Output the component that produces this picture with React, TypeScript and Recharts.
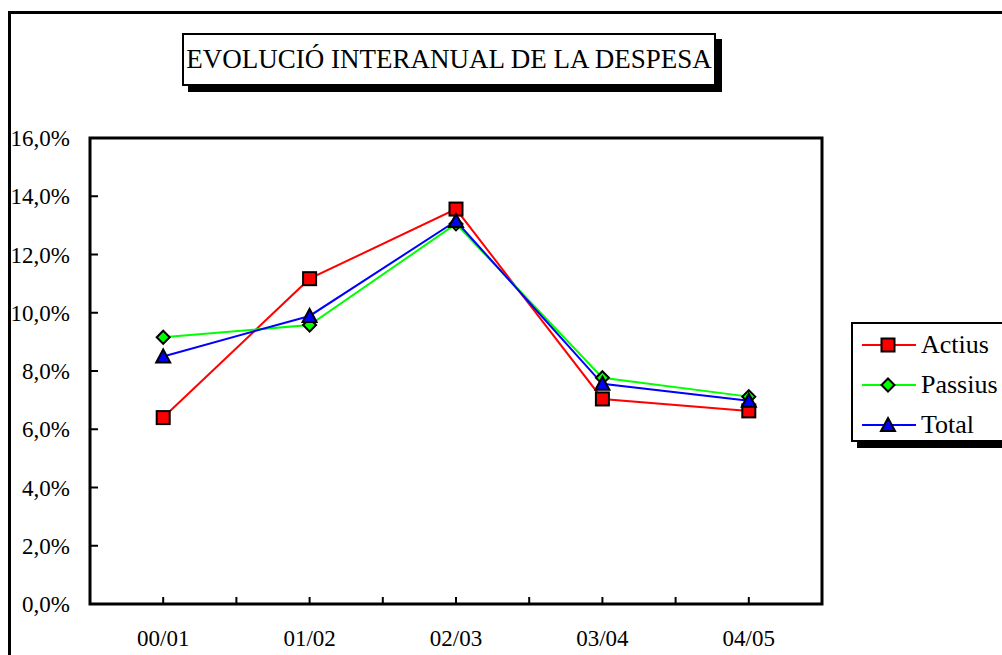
import { LineChart, Line, XAxis, YAxis, ReferenceArea } from 'recharts';

const categories = ['00/01', '01/02', '02/03', '03/04', '04/05'];
const actius = [6.4, 11.17, 13.56, 7.04, 6.63];
const passius = [9.16, 9.58, 13.05, 7.77, 7.12];
const total = [8.5, 9.89, 13.15, 7.56, 6.98];
const yTicks = [0, 2, 4, 6, 8, 10, 12, 14, 16];
const xTicks = [0.5, 1, 1.5, 2, 2.5, 3, 3.5, 4, 4.5];

const FONT = 'Liberation Serif';

const chartData = categories.map((c, i) => ({
  x: i + 0.5,
  name: c,
  actius: actius[i],
  passius: passius[i],
  total: total[i],
}));

function Square({ cx, cy }: { cx: number; cy: number }) {
  return <rect x={cx - 6.5} y={cy - 6.5} width={13} height={13} fill="#ff0000" stroke="#000" strokeWidth={2} />;
}

function Diamond({ cx, cy }: { cx: number; cy: number }) {
  const r = 6.5;
  return (
    <polygon
      points={`${cx},${cy - r} ${cx + r},${cy} ${cx},${cy + r} ${cx - r},${cy}`}
      fill="#00ff00"
      stroke="#000"
      strokeWidth={2}
    />
  );
}

function Triangle({ cx, cy }: { cx: number; cy: number }) {
  return (
    <polygon
      points={`${cx},${cy - 7} ${cx + 7},${cy + 6} ${cx - 7},${cy + 6}`}
      fill="#0000ff"
      stroke="#000"
      strokeWidth={2}
    />
  );
}

const series = [
  { key: 'actius', name: 'Actius', color: '#ff0000', Marker: Square },
  { key: 'passius', name: 'Passius', color: '#00ff00', Marker: Diamond },
  { key: 'total', name: 'Total', color: '#0000ff', Marker: Triangle },
];

function Legend() {
  return (
    <div
      style={{
        position: 'absolute',
        left: 851,
        top: 322,
        width: 170,
        height: 116,
        border: '2px solid #000',
        background: '#fff',
        boxShadow: '6px 6px 0 #000',
      }}
    >
      {series.map((s, i) => (
        <div key={s.key} style={{ position: 'absolute', left: 7, top: 3 + i * 40, height: 36, display: 'flex', alignItems: 'center' }}>
          <svg width={56} height={20}>
            <line x1={2} y1={10} x2={56} y2={10} stroke={s.color} strokeWidth={2} />
            <s.Marker cx={28} cy={10} />
          </svg>
          <span style={{ fontFamily: FONT, fontSize: 26, marginLeft: 5, color: '#000' }}>{s.name}</span>
        </div>
      ))}
    </div>
  );
}

export default function App() {
  return (
    <div style={{ position: 'fixed', left: 0, top: 0, width: 1002, height: 655, overflow: 'hidden', background: '#fff' }}>
      <div
        style={{
          position: 'absolute',
          left: 8,
          top: 11,
          width: 1100,
          height: 800,
          border: '3px solid #000',
        }}
      />
      <div
        style={{
          position: 'absolute',
          left: 182,
          top: 33,
          width: 530,
          height: 49,
          border: '2px solid #000',
          background: '#fff',
          boxShadow: '6px 6px 0 #000',
          display: 'flex',
          alignItems: 'center',
          justifyContent: 'center',
          fontFamily: FONT,
          fontSize: 27,
          color: '#000',
        }}
      >
        EVOLUCIÓ INTERANUAL DE LA DESPESA
      </div>
      <div style={{ position: 'absolute', left: 0, top: 0, fontFamily: FONT }}>
        <LineChart width={1002} height={655} data={chartData} margin={{ top: 138, right: 180, bottom: 11, left: 10 }}>
          <XAxis
            type="number"
            dataKey="x"
            domain={[0, 5]}
            ticks={xTicks}
            interval={0}
            height={40}
            axisLine={false}
            tickLine={{ stroke: '#000', strokeWidth: 2 }}
            tickSize={-7}
            tickMargin={33}
            tick={{ fontFamily: FONT, fontSize: 23, fill: '#000' }}
            tickFormatter={(v: number) => (Number.isInteger(v - 0.5) ? categories[v - 0.5] : '')}
          />
          <YAxis
            type="number"
            domain={[0, 16]}
            ticks={yTicks}
            interval={0}
            width={80}
            axisLine={false}
            tickLine={{ stroke: '#000', strokeWidth: 2 }}
            tickSize={-8}
            tickMargin={28}
            tick={{ fontFamily: FONT, fontSize: 23, fill: '#000' }}
            tickFormatter={(v: number) => `${v.toFixed(1).replace('.', ',')}%`}
          />
          <ReferenceArea x1={0} x2={5} y1={0} y2={16} fill="none" stroke="#000" strokeWidth={3} ifOverflow="visible" />
          {series.map((s) => (
            <Line
              key={s.key}
              dataKey={s.key}
              name={s.name}
              stroke={s.color}
              strokeWidth={2}
              isAnimationActive={false}
              dot={(p: any) => <s.Marker key={`${s.key}-${p.index}`} cx={p.cx} cy={p.cy} />}
              activeDot={false}
            />
          ))}
        </LineChart>
      </div>
      <Legend />
    </div>
  );
}
